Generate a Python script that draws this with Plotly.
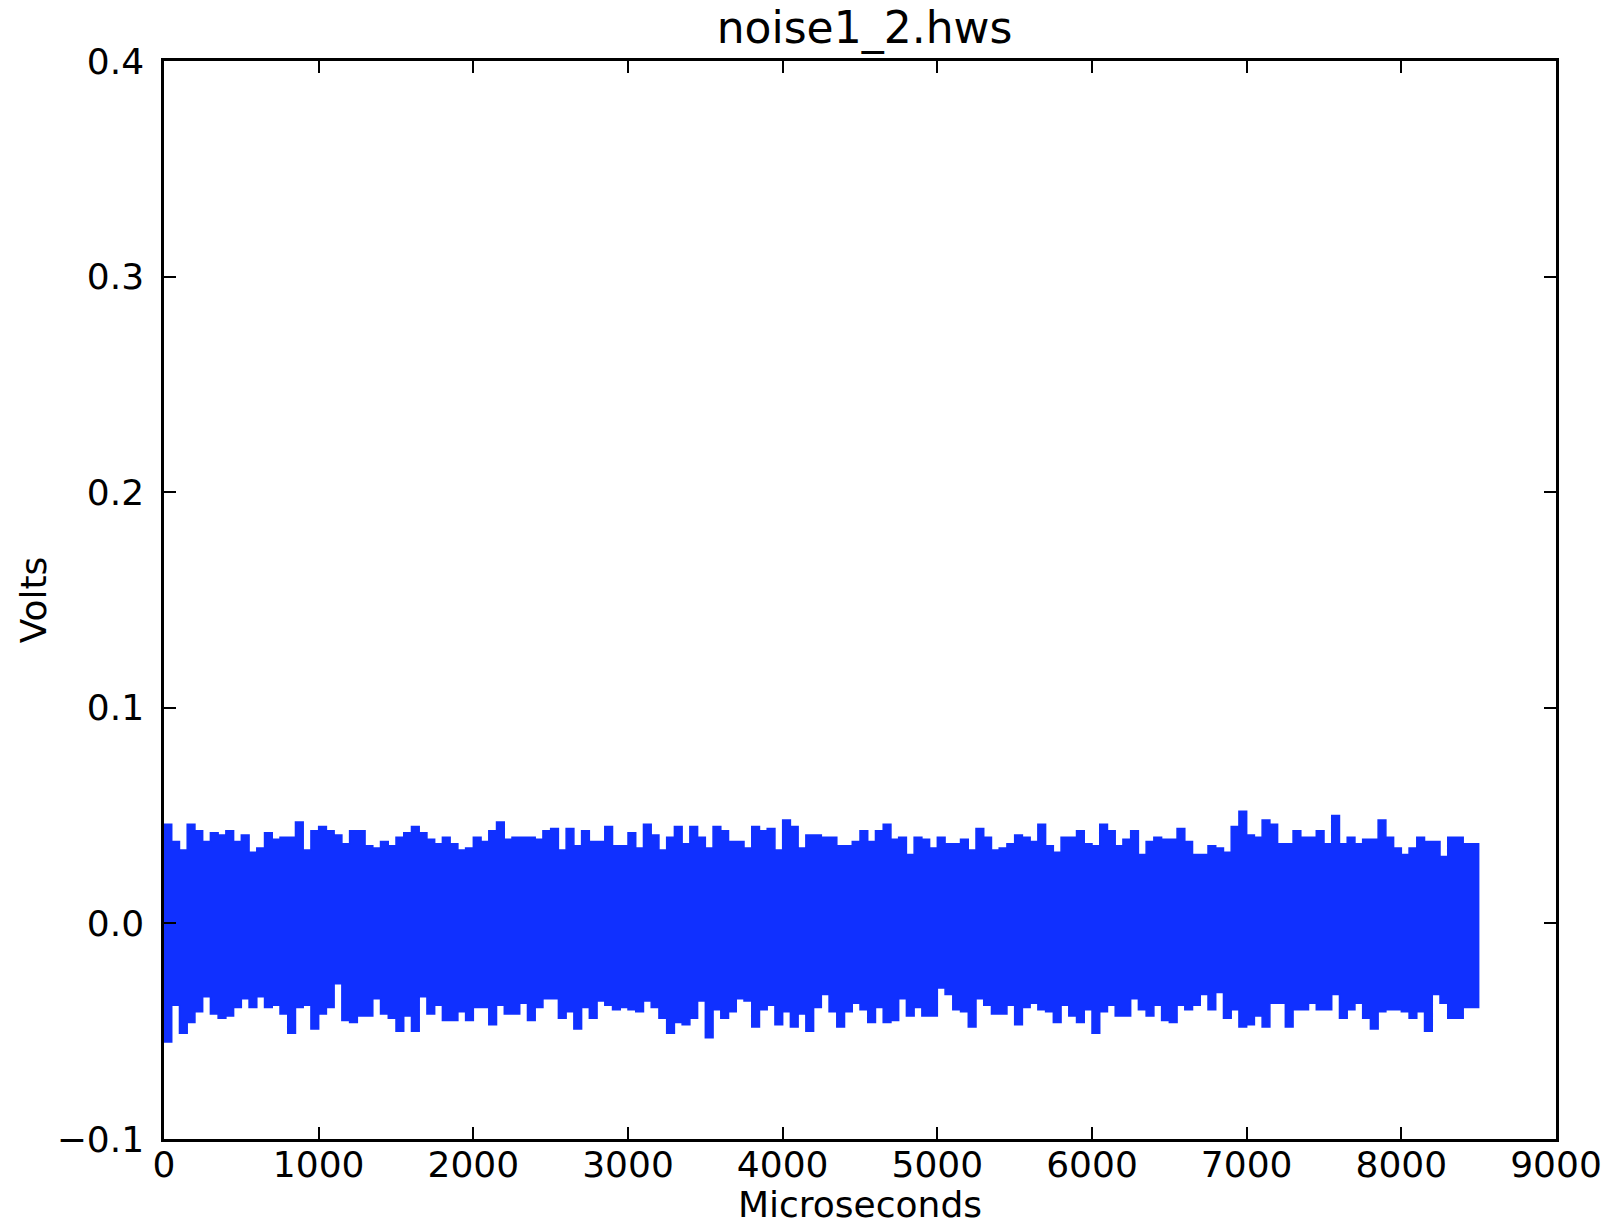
import plotly.graph_objects as go

# Sample times (microseconds) of the envelope readings, every 50 us from 0 to 8500
step_us = 50
times_us = [i * step_us for i in range(171)]

# Upper envelope (volts) of the noise trace
upper_v = [
    0.046, 0.038, 0.034, 0.046, 0.043, 0.038, 0.042, 0.041, 0.043, 0.038,
    0.041, 0.033, 0.035, 0.042, 0.039, 0.040, 0.040, 0.047, 0.034, 0.043,
    0.045, 0.043, 0.041, 0.037, 0.043, 0.043, 0.036, 0.035, 0.038, 0.036,
    0.040, 0.042, 0.045, 0.042, 0.039, 0.037, 0.040, 0.037, 0.034, 0.035,
    0.040, 0.038, 0.043, 0.047, 0.039, 0.040, 0.040, 0.040, 0.039, 0.043,
    0.044, 0.034, 0.044, 0.036, 0.043, 0.038, 0.038, 0.045, 0.036, 0.036,
    0.042, 0.035, 0.046, 0.041, 0.034, 0.040, 0.045, 0.037, 0.045, 0.040,
    0.035, 0.045, 0.043, 0.038, 0.038, 0.035, 0.045, 0.043, 0.044, 0.034,
    0.048, 0.045, 0.035, 0.041, 0.041, 0.040, 0.040, 0.036, 0.036, 0.038,
    0.043, 0.038, 0.043, 0.046, 0.039, 0.040, 0.032, 0.040, 0.039, 0.035,
    0.040, 0.037, 0.037, 0.039, 0.034, 0.044, 0.040, 0.034, 0.035, 0.037,
    0.041, 0.040, 0.038, 0.046, 0.036, 0.033, 0.040, 0.040, 0.043, 0.037,
    0.036, 0.046, 0.043, 0.036, 0.039, 0.043, 0.032, 0.038, 0.040, 0.039,
    0.039, 0.044, 0.038, 0.032, 0.032, 0.036, 0.035, 0.033, 0.045, 0.052,
    0.041, 0.040, 0.048, 0.046, 0.037, 0.037, 0.043, 0.040, 0.040, 0.043,
    0.037, 0.050, 0.037, 0.040, 0.037, 0.039, 0.039, 0.048, 0.040, 0.035,
    0.032, 0.035, 0.040, 0.038, 0.038, 0.031, 0.040, 0.040, 0.037, 0.037,
    0.037,
]

# Lower envelope (volts) of the noise trace
lower_v = [
    -0.034, -0.055, -0.038, -0.051, -0.046, -0.041, -0.034, -0.042, -0.044, -0.043,
    -0.039, -0.035, -0.039, -0.034, -0.039, -0.038, -0.042, -0.051, -0.039, -0.038,
    -0.049, -0.042, -0.039, -0.028, -0.045, -0.046, -0.043, -0.043, -0.035, -0.042,
    -0.044, -0.050, -0.043, -0.050, -0.034, -0.042, -0.038, -0.045, -0.045, -0.041,
    -0.045, -0.039, -0.039, -0.047, -0.038, -0.042, -0.042, -0.037, -0.045, -0.039,
    -0.035, -0.035, -0.044, -0.041, -0.049, -0.039, -0.044, -0.036, -0.038, -0.040,
    -0.039, -0.040, -0.041, -0.036, -0.039, -0.044, -0.051, -0.046, -0.047, -0.044,
    -0.036, -0.053, -0.040, -0.044, -0.041, -0.035, -0.036, -0.048, -0.040, -0.038,
    -0.047, -0.041, -0.048, -0.042, -0.050, -0.039, -0.033, -0.041, -0.048, -0.041,
    -0.037, -0.040, -0.046, -0.039, -0.046, -0.045, -0.035, -0.043, -0.039, -0.043,
    -0.043, -0.030, -0.033, -0.040, -0.041, -0.048, -0.035, -0.038, -0.042, -0.042,
    -0.038, -0.047, -0.039, -0.037, -0.040, -0.041, -0.046, -0.038, -0.043, -0.046,
    -0.040, -0.051, -0.041, -0.038, -0.043, -0.043, -0.035, -0.040, -0.043, -0.038,
    -0.045, -0.046, -0.038, -0.040, -0.038, -0.033, -0.040, -0.032, -0.044, -0.040,
    -0.048, -0.047, -0.043, -0.048, -0.037, -0.037, -0.048, -0.040, -0.040, -0.037,
    -0.040, -0.040, -0.033, -0.044, -0.040, -0.037, -0.044, -0.049, -0.041, -0.040,
    -0.040, -0.041, -0.044, -0.041, -0.050, -0.033, -0.037, -0.044, -0.044, -0.039,
    -0.039,
]

x_ticks = [0, 1000, 2000, 3000, 4000, 5000, 6000, 7000, 8000, 9000]
y_ticks = [-0.1, 0.0, 0.1, 0.2, 0.3, 0.4]

title_text = "noise1_2.hws"
x_title = "Microseconds"
y_title = "Volts"

line_color = "#1030ff"
font_family = "DejaVu Sans"
label_size = 36

poly_x = list(times_us) + list(reversed(times_us))
poly_y = list(upper_v) + list(reversed(lower_v))

fig = go.Figure()
fig.add_trace(go.Scatter(
    x=poly_x, y=poly_y, mode="lines",
    line=dict(color=line_color, width=1.5, shape="hv"),
    fill="toself", fillcolor=line_color,
    showlegend=False, hoverinfo="skip",
))

axis_common = dict(
    showline=True, linecolor="black", linewidth=2.5, mirror="ticks",
    ticks="inside", ticklen=12, tickwidth=1.5, tickcolor="black",
    showgrid=False, zeroline=False, automargin=False,
    tickfont=dict(family=font_family, size=label_size, color="black"),
)

fig.update_xaxes(
    range=[0, 9000], tickvals=x_ticks, tickformat="d",
    title=dict(text=x_title, font=dict(family=font_family, size=label_size, color="black"), standoff=5),
    ticklabelstandoff=-8,
    **axis_common,
)
fig.update_yaxes(
    range=[-0.1, 0.4], tickvals=y_ticks, tickformat=".1f",
    title=dict(text=y_title, font=dict(family=font_family, size=label_size, color="black"), standoff=0),
    ticklabelstandoff=10,
    **axis_common,
)

fig.update_layout(
    width=1619, height=1225,
    margin=dict(l=164, r=63, t=61, b=86),
    paper_bgcolor="white", plot_bgcolor="white",
    title=dict(text=title_text, x=0.534, xanchor="center", y=1 - 28 / 1225, yanchor="middle",
               yref="container", font=dict(family=font_family, size=44, color="black")),
    font=dict(family=font_family, color="black"),
)

fig.write_html("out.html")
